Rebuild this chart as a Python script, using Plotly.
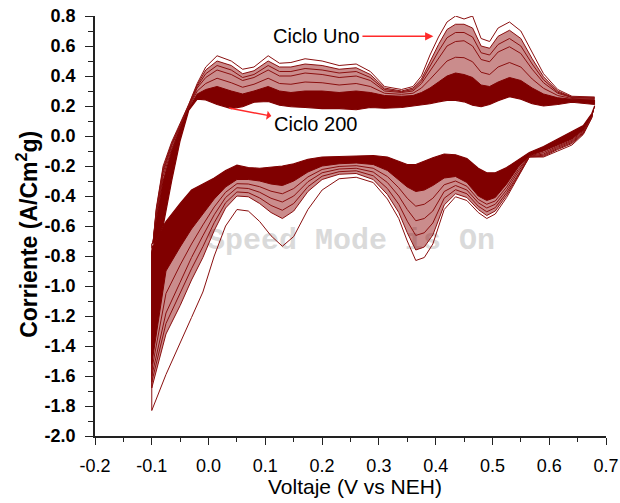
import plotly.graph_objects as go

# ---------------- data ----------------
# anodic sweep (left -> right) voltage grid
V_ANODIC = [-0.100, -0.100, -0.092, -0.080, -0.065, -0.050, -0.035, -0.020, -0.005, 0.015,
            0.040, 0.060, 0.080, 0.105, 0.125, 0.145, 0.170, 0.200, 0.230, 0.260,
            0.285, 0.310, 0.340, 0.360, 0.375, 0.390, 0.405, 0.420, 0.435, 0.450,
            0.465, 0.480, 0.495, 0.510, 0.530, 0.550, 0.570, 0.590, 0.615, 0.640, 0.680]
# cathodic sweep (right -> left) voltage grid
V_CATHODIC = [0.680, 0.675, 0.660, 0.640, 0.615, 0.590, 0.565, 0.545, 0.525, 0.505,
              0.490, 0.475, 0.455, 0.435, 0.415, 0.395, 0.380, 0.365, 0.350, 0.335,
              0.315, 0.290, 0.260, 0.230, 0.200, 0.175, 0.150, 0.130, 0.110, 0.090,
              0.070, 0.050, 0.030, 0.010, -0.010, -0.030, -0.050, -0.075, -0.100]

I_AN_C1 = [-1.83, -0.80, -0.48, -0.20, -0.04, 0.08, 0.21, 0.35, 0.46, 0.535,
           0.50, 0.445, 0.46, 0.535, 0.485, 0.49, 0.515, 0.50, 0.47, 0.48,
           0.43, 0.33, 0.31, 0.33, 0.40, 0.54, 0.66, 0.76, 0.80, 0.78,
           0.80, 0.65, 0.63, 0.72, 0.76, 0.70, 0.555, 0.415, 0.31, 0.265, 0.26]
I_AN_C3 = [-1.68, -0.80, -0.49, -0.215, -0.05, 0.075, 0.205, 0.34, 0.44, 0.50,
           0.47, 0.415, 0.435, 0.50, 0.46, 0.46, 0.48, 0.47, 0.445, 0.455,
           0.41, 0.32, 0.30, 0.32, 0.38, 0.50, 0.61, 0.71, 0.745, 0.745,
           0.72, 0.60, 0.585, 0.665, 0.705, 0.65, 0.515, 0.395, 0.30, 0.26, 0.257]
I_AN_C5 = [-1.64, -0.795, -0.50, -0.23, -0.058, 0.07, 0.20, 0.33, 0.415, 0.47,
           0.44, 0.39, 0.41, 0.47, 0.43, 0.43, 0.45, 0.44, 0.42, 0.43,
           0.39, 0.31, 0.295, 0.31, 0.365, 0.47, 0.565, 0.655, 0.69, 0.69,
           0.66, 0.555, 0.54, 0.61, 0.65, 0.60, 0.48, 0.375, 0.292, 0.258, 0.254]
I_AN_C7 = [-1.60, -0.79, -0.515, -0.245, -0.067, 0.066, 0.196, 0.32, 0.39, 0.44,
           0.41, 0.37, 0.39, 0.44, 0.40, 0.40, 0.42, 0.41, 0.39, 0.40,
           0.37, 0.30, 0.29, 0.30, 0.35, 0.435, 0.52, 0.60, 0.63, 0.635,
           0.60, 0.51, 0.495, 0.56, 0.595, 0.55, 0.445, 0.355, 0.285, 0.256, 0.25]
I_AN_C10 = [-1.56, -0.785, -0.535, -0.27, -0.085, 0.058, 0.188, 0.30, 0.35, 0.385,
            0.355, 0.325, 0.345, 0.385, 0.35, 0.345, 0.36, 0.355, 0.34, 0.35,
            0.33, 0.285, 0.278, 0.285, 0.32, 0.378, 0.44, 0.50, 0.525, 0.522,
            0.495, 0.425, 0.41, 0.46, 0.49, 0.46, 0.38, 0.318, 0.27, 0.25, 0.245]
I_AN_C15 = [-1.52, -0.78, -0.56, -0.30, -0.10, 0.05, 0.18, 0.28, 0.31, 0.33,
            0.30, 0.28, 0.30, 0.33, 0.30, 0.29, 0.30, 0.30, 0.29, 0.30,
            0.29, 0.27, 0.265, 0.27, 0.29, 0.32, 0.36, 0.40, 0.42, 0.41,
            0.39, 0.34, 0.33, 0.36, 0.39, 0.37, 0.32, 0.28, 0.255, 0.245, 0.24]
I_AN_C200 = [-0.75, -0.72, -0.70, -0.60, -0.30, -0.03, 0.17, 0.245, 0.24, 0.21,
             0.183, 0.195, 0.225, 0.23, 0.205, 0.195, 0.19, 0.183, 0.183, 0.175,
             0.19, 0.185, 0.19, 0.198, 0.205, 0.215, 0.228, 0.238, 0.238, 0.228,
             0.205, 0.195, 0.21, 0.235, 0.262, 0.245, 0.215, 0.20, 0.21, 0.225, 0.21]

I_CA_C1 = [0.24, 0.12, 0.01, -0.06, -0.10, -0.14, -0.14, -0.28, -0.41, -0.52,
           -0.55, -0.51, -0.43, -0.405, -0.49, -0.72, -0.81, -0.83, -0.70, -0.55,
           -0.42, -0.31, -0.275, -0.285, -0.36, -0.49, -0.67, -0.735, -0.665, -0.57,
           -0.50, -0.49, -0.60, -0.80, -1.04, -1.21, -1.38, -1.59, -1.83]
I_CA_C3 = [0.23, 0.125, 0.015, -0.05, -0.09, -0.135, -0.14, -0.27, -0.395, -0.50,
           -0.53, -0.49, -0.41, -0.385, -0.46, -0.66, -0.74, -0.76, -0.645, -0.51,
           -0.39, -0.29, -0.25, -0.255, -0.29, -0.37, -0.50, -0.55, -0.51, -0.45,
           -0.405, -0.40, -0.48, -0.63, -0.81, -0.96, -1.13, -1.32, -1.68]
I_CA_C5 = [0.222, 0.128, 0.02, -0.043, -0.083, -0.128, -0.138, -0.255, -0.378, -0.478,
           -0.505, -0.468, -0.385, -0.358, -0.415, -0.58, -0.645, -0.663, -0.568, -0.455,
           -0.35, -0.265, -0.232, -0.238, -0.268, -0.338, -0.45, -0.495, -0.463, -0.413,
           -0.378, -0.373, -0.445, -0.578, -0.738, -0.885, -1.05, -1.25, -1.64]
I_CA_C7 = [0.215, 0.13, 0.025, -0.035, -0.075, -0.12, -0.135, -0.24, -0.36, -0.455,
           -0.48, -0.445, -0.36, -0.33, -0.37, -0.50, -0.55, -0.565, -0.49, -0.40,
           -0.31, -0.24, -0.215, -0.22, -0.245, -0.305, -0.40, -0.44, -0.415, -0.375,
           -0.35, -0.345, -0.41, -0.525, -0.665, -0.81, -0.975, -1.18, -1.60]
I_CA_C10 = [0.208, 0.135, 0.033, -0.028, -0.068, -0.11, -0.133, -0.225, -0.34, -0.433,
            -0.455, -0.423, -0.335, -0.30, -0.325, -0.415, -0.455, -0.468, -0.415, -0.345,
            -0.27, -0.215, -0.198, -0.203, -0.223, -0.273, -0.35, -0.385, -0.368, -0.338,
            -0.32, -0.318, -0.375, -0.473, -0.593, -0.72, -0.86, -1.05, -1.56]
I_CA_C15 = [0.20, 0.14, 0.04, -0.02, -0.06, -0.10, -0.13, -0.21, -0.32, -0.41,
            -0.43, -0.40, -0.31, -0.27, -0.28, -0.33, -0.36, -0.37, -0.34, -0.29,
            -0.23, -0.19, -0.18, -0.185, -0.20, -0.24, -0.30, -0.33, -0.32, -0.30,
            -0.29, -0.29, -0.34, -0.42, -0.52, -0.62, -0.74, -0.90, -1.52]
I_CA_C200 = [0.20, 0.15, 0.07, 0.03, -0.02, -0.07, -0.11, -0.16, -0.21, -0.245,
             -0.245, -0.215, -0.15, -0.125, -0.12, -0.145, -0.17, -0.19, -0.19, -0.17,
             -0.14, -0.13, -0.135, -0.14, -0.14, -0.155, -0.185, -0.20, -0.207, -0.215,
             -0.21, -0.195, -0.23, -0.28, -0.32, -0.36, -0.45, -0.57, -0.75]

X_TICKS = [-0.2, -0.1, 0.0, 0.1, 0.2, 0.3, 0.4, 0.5, 0.6, 0.7]
Y_TICKS = [-2.0, -1.8, -1.6, -1.4, -1.2, -1.0, -0.8, -0.6, -0.4, -0.2, 0.0, 0.2, 0.4, 0.6, 0.8]

MAROON = "#800000"
LINE = "#8a0f0f"
FONT = "Liberation Sans, Arial, sans-serif"


def loop(cath, anod):
    return V_CATHODIC + V_ANODIC, cath + anod


fig = go.Figure()

# watermark (behind the curves)
fig.add_trace(go.Scatter(x=[0.251], y=[-0.70], mode="text", text=["Speed Mode is On"],
                         textfont=dict(family="Liberation Mono, Courier New, monospace",
                                       size=30, color="#dadada", weight="bold"),
                         hoverinfo="skip", showlegend=False))

# cycle 1 (outer line only)
x, y = loop(I_CA_C1, I_AN_C1)
fig.add_trace(go.Scatter(x=x, y=y, mode="lines", line=dict(color=LINE, width=1),
                         showlegend=False))
# cycle 3: light band of many cycles
x, y = loop(I_CA_C3, I_AN_C3)
fig.add_trace(go.Scatter(x=x, y=y, mode="lines", fill="toself",
                         fillcolor="rgba(145,15,15,0.48)",
                         line=dict(color=LINE, width=1), showlegend=False))
for cath, anod in [(I_CA_C5, I_AN_C5), (I_CA_C7, I_AN_C7), (I_CA_C10, I_AN_C10)]:
    x, y = loop(cath, anod)
    fig.add_trace(go.Scatter(x=x, y=y, mode="lines", line=dict(color=LINE, width=1),
                             showlegend=False))
# cycle 15: dense region
x, y = loop(I_CA_C15, I_AN_C15)
fig.add_trace(go.Scatter(x=x, y=y, mode="lines", fill="toself", fillcolor=MAROON,
                         line=dict(color=MAROON, width=1), showlegend=False))
# cycle 200 (innermost)
x, y = loop(I_CA_C200, I_AN_C200)
fig.add_trace(go.Scatter(x=x, y=y, mode="lines", fill="toself", fillcolor="white",
                         line=dict(color=MAROON, width=1.2), showlegend=False))

annotations = [
    dict(text="Ciclo Uno", ax=0.19, ay=0.665, x=0.396, y=0.665, xref="x", yref="y",
         axref="x", ayref="y", showarrow=True, arrowhead=2, arrowsize=1.1,
         arrowwidth=1.5, arrowcolor="#ff2a2a", borderpad=2,
         font=dict(family=FONT, size=20, color="black")),
    dict(text="Ciclo 200", ax=0.188, ay=0.078, x=0.036, y=0.186, xref="x", yref="y",
         axref="x", ayref="y", showarrow=True, arrowhead=2, arrowside="start",
         arrowsize=1.1, arrowwidth=1.5, arrowcolor="#ff2a2a", borderpad=2,
         font=dict(family=FONT, size=20, color="black")),
    dict(text="Voltaje (V vs NEH)", x=0.508, y=-0.12, xref="paper", yref="paper",
         showarrow=False, xanchor="center", yanchor="middle",
         font=dict(family=FONT, size=21, color="black")),
    dict(text="<b>Corriente (A/Cm<sup>2</sup>g)</b>", x=-0.133, y=0.479,
         xref="paper", yref="paper", showarrow=False, textangle=-90,
         xanchor="center", yanchor="middle",
         font=dict(family=FONT, size=23, color="black")),
]

fig.update_layout(
    width=620, height=503,
    margin=dict(l=95, r=14, t=16, b=67),
    paper_bgcolor="white", plot_bgcolor="white",
    showlegend=False,
    annotations=annotations,
    xaxis=dict(range=[-0.2, 0.7], tickvals=X_TICKS,
               ticktext=[f"{v:.1f}" for v in X_TICKS], automargin=False,
               showgrid=False, zeroline=False, showline=True, linecolor="#222",
               linewidth=1.5, ticks="outside", ticklen=7, tickwidth=1.2,
               tickcolor="#222", ticklabelstandoff=6,
               tickfont=dict(family=FONT, size=18, color="black"),
               minor=dict(dtick=0.05, tick0=0, ticks="outside", ticklen=4,
                          tickwidth=1.2, tickcolor="#222")),
    yaxis=dict(range=[-2.0, 0.8], tickvals=Y_TICKS,
               ticktext=[f"{v:.1f}" for v in Y_TICKS], automargin=False,
               showgrid=False, zeroline=False, showline=True, linecolor="#222",
               linewidth=1.5, ticks="outside", ticklen=8, tickwidth=1.2,
               tickcolor="#222", ticklabelstandoff=6,
               tickfont=dict(family=FONT, size=18, color="black", weight="bold"),
               minor=dict(dtick=0.1, tick0=0, ticks="outside", ticklen=5,
                          tickwidth=1.2, tickcolor="#222")),
)

fig.write_html("out.html")
